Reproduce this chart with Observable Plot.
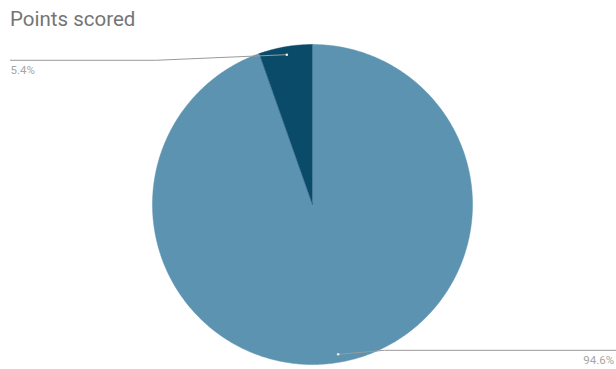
<!DOCTYPE html>
<html>
<head>
<meta charset="utf-8">
<script src="https://cdn.jsdelivr.net/npm/d3@7"></script>
<script src="https://cdn.jsdelivr.net/npm/@observablehq/plot@0.6"></script>
<style>
  html, body { margin: 0; padding: 0; background: #fff; }
  #wrap { position: relative; width: 616px; height: 369px; overflow: hidden; }
  #title { position: absolute; left: 10px; top: 7px; font-family: Roboto, "Liberation Sans", sans-serif; font-size: 20.5px; color: #757575; }
  #chart svg { display: block; }
</style>
</head>
<body>
<div id="wrap">
  <div id="chart"></div>
  <div id="title">Points scored</div>
</div>
<script>
// Data
const categories = ["A", "B"];
const values = [5.4, 94.6];
const valueLabels = ["5.4%", "94.6%"];
const colors = ["#0a4b6a", "#5b93b1"];

// Pie layout: slice B clockwise from 12 o'clock, slice A fills the rest
const order = [1, 0];
const pie = d3.pie().sort(null).value(i => values[i])(order);

const polys = [];
pie.forEach(a => {
  const i = a.data;
  polys.push({ k: categories[i], x: 0, y: 0 });
  const n = Math.max(4, Math.ceil((a.endAngle - a.startAngle) / 0.01));
  for (let s = 0; s <= n; s++) {
    const t = a.startAngle + (a.endAngle - a.startAngle) * s / n;
    polys.push({ k: categories[i], x: Math.sin(t), y: Math.cos(t) });
  }
});

// Leader lines & labels
const leaders = [];
const dots = [];
const texts = [];
pie.forEach(a => {
  const i = a.data;
  const m = (a.startAngle + a.endAngle) / 2;
  const dx = 0.95 * Math.sin(m), dy = 0.95 * Math.cos(m);
  const left = dx < 0;
  const lineY = left ? dy - 0.035 : dy + 0.025;
  const elbowX = left ? -0.98 : 0.45;
  const endX = left ? -1.8875 : 1.9;
  dots.push({ x: dx, y: dy });
  leaders.push({ k: categories[i], x: dx, y: dy });
  leaders.push({ k: categories[i], x: elbowX, y: lineY });
  leaders.push({ k: categories[i], x: endX, y: lineY });
  texts.push({ x: left ? endX : 1.885, y: lineY, label: valueLabels[i], anchor: left ? "start" : "end" });
});

const chart = Plot.plot({
  width: 616,
  height: 369,
  marginLeft: 152,
  marginRight: 144,
  marginTop: 44,
  marginBottom: 5,
  x: { domain: [-1, 1], axis: null },
  y: { domain: [-1, 1], axis: null },
  color: { domain: categories, range: colors },
  style: { fontFamily: "Roboto, 'Liberation Sans', sans-serif", background: "#fff" },
  marks: [
    Plot.line(polys, { x: "x", y: "y", z: "k", fill: "k", stroke: "k", strokeWidth: 0.5, curve: "linear" }),
    Plot.line(leaders, { x: "x", y: "y", z: "k", stroke: "#9a9a9a", strokeWidth: 1 }),
    Plot.dot(dots, { x: "x", y: "y", r: 1.3, fill: "#e8eef2", stroke: "none" }),
    Plot.text(texts.filter(d => d.anchor === "start"), { x: "x", y: "y", text: "label", textAnchor: "start", lineAnchor: "top", dy: 6, fill: "#a6a6a6", fontSize: 11.5 }),
    Plot.text(texts.filter(d => d.anchor === "end"), { x: "x", y: "y", text: "label", textAnchor: "end", lineAnchor: "top", dy: 6, fill: "#a6a6a6", fontSize: 11.5 })
  ]
});
document.getElementById("chart").appendChild(chart);
</script>
</body>
</html>
